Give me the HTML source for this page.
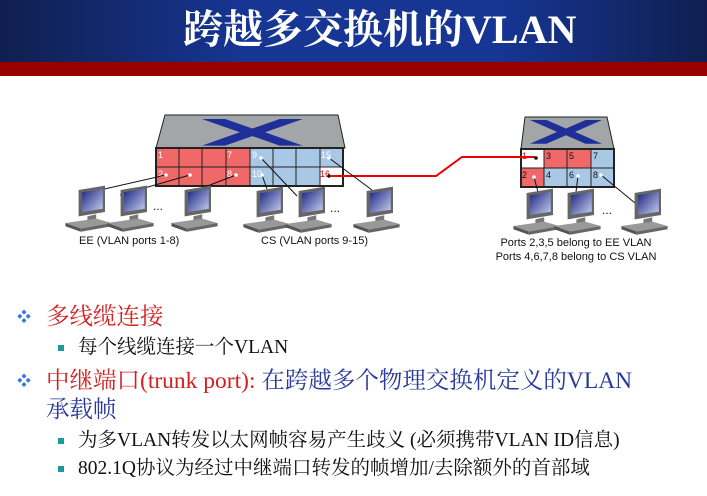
<!DOCTYPE html>
<html><head><meta charset="utf-8"><style>
body{margin:0;width:707px;height:496px;overflow:hidden;background:#fff;font-family:"Liberation Serif","Noto Serif CJK SC",serif;}
.hdr{position:absolute;left:0;top:0;width:707px;height:62px;background:linear-gradient(90deg,#0f1f4e 0%,#173694 35%,#173694 70%,#0f1f50 100%);}
.red{position:absolute;left:0;top:62px;width:707px;height:14px;background:#990000;}
.t{position:absolute;left:183px;top:8px;color:#fff;font-size:40px;font-weight:bold;line-height:44px;white-space:nowrap;}
.tx{position:absolute;white-space:nowrap;}
.l1{font-size:23.5px;line-height:26px;}
.l2{font-size:19.5px;line-height:22px;color:#111;}
.dia{position:absolute;color:#3a78d8;font-size:14px;}
.sq{position:absolute;width:6px;height:6px;background:#1a9a9a;}
</style></head><body>
<div class="hdr"></div><div class="red"></div>
<div class="t">跨越多交换机的VLAN</div>
<svg width="707" height="496" style="position:absolute;left:0;top:0" font-family="Liberation Sans, sans-serif">
<defs>
<linearGradient id="scr" x1="0" y1="0" x2="1" y2="1"><stop offset="0" stop-color="#1a237e"/><stop offset="1" stop-color="#c8d0f0"/></linearGradient>
<g id="pc0">
<polygon points="6,0 30,-4 30,20 6,24" fill="#666"/>
<polygon points="9,2 28,-1 28,17 9,20" fill="url(#scr)"/>
<polygon points="14,24 22,22 22,27 14,28" fill="#777"/>
<polygon points="-6,30 22,26 36,30 8,35" fill="#999"/>
<polygon points="-6,30 8,35 8,38 -6,33" fill="#555"/>
<polygon points="8,35 36,30 36,33 8,38" fill="#666"/>
</g>
<g id="pc"><g transform="scale(1.1)"><use href="#pc0"/></g></g>
<g id="xs"><polygon points="0,0 22,0 48,10 74,0 96,0 60,14 96,28 74,28 48,18 22,28 0,28 36,14" fill="#1f2f9a"/></g>
</defs>
<polygon points="165,115 338,115 345,148 156,148" fill="#a3a6a8" stroke="#222"/>
<g transform="translate(202,119) scale(1.05,0.95)"><use href="#xs"/></g>
<rect x="156" y="148" width="94" height="38" fill="#f06868"/>
<rect x="250" y="148" width="93" height="38" fill="#a9c8e6"/>
<rect x="320" y="167" width="23" height="19" fill="#fff"/>
<g stroke="#222" stroke-width="1">
<rect x="156" y="148" width="187" height="38" fill="none" stroke-width="2"/>
<line x1="156" y1="167" x2="343" y2="167"/>
<line x1="179" y1="148" x2="179" y2="186"/><line x1="202" y1="148" x2="202" y2="186"/>
<line x1="226" y1="148" x2="226" y2="186"/><line x1="250" y1="148" x2="250" y2="186"/>
<line x1="273" y1="148" x2="273" y2="186"/><line x1="296" y1="148" x2="296" y2="186"/>
<line x1="320" y1="148" x2="320" y2="186"/>
</g>
<g font-size="9" fill="#fff"><text x="158" y="158">1</text><text x="227" y="158">7</text><text x="158" y="177">2</text><text x="227" y="177">8</text><text x="252" y="158">9</text><text x="252" y="177">10</text><text x="321" y="158">15</text></g>
<text x="320" y="177" font-size="9" fill="#e00">16</text>
<polygon points="525,117 607,117 614,149 521,149" fill="#a3a6a8" stroke="#222"/>
<g transform="translate(530,120) scale(0.75,0.85)"><use href="#xs"/></g>
<rect x="521" y="149" width="93" height="38" fill="#a9c8e6"/>
<rect x="544" y="149" width="47" height="19" fill="#f06868"/>
<rect x="521" y="168" width="23" height="19" fill="#f06868"/>
<rect x="521" y="149" width="23" height="19" fill="#fff"/>
<g stroke="#222"><rect x="521" y="149" width="93" height="38" fill="none" stroke-width="2"/>
<line x1="521" y1="168" x2="614" y2="168"/><line x1="544" y1="149" x2="544" y2="187"/><line x1="567" y1="149" x2="567" y2="187"/><line x1="591" y1="149" x2="591" y2="187"/></g>
<g font-size="9" fill="#111"><text x="546" y="159">3</text><text x="569" y="159">5</text><text x="593" y="159">7</text><text x="522" y="178">2</text><text x="546" y="178">4</text><text x="569" y="178">6</text><text x="593" y="178">8</text></g>
<text x="522" y="159" font-size="9" fill="#e00">1</text>
<polyline points="331,176 436,176 462,157 535,157" fill="none" stroke="#e00" stroke-width="2"/>
<g stroke="#111" stroke-width="1" fill="none">
<line x1="166" y1="175" x2="100" y2="190"/><line x1="190" y1="175" x2="120" y2="195"/>
<line x1="236" y1="175" x2="197" y2="190"/>
<line x1="261" y1="158" x2="297" y2="196"/><line x1="262" y1="175" x2="267" y2="189"/>
<line x1="329" y1="158" x2="372" y2="190"/>
<line x1="534" y1="177" x2="538" y2="192"/><line x1="578" y1="176" x2="576" y2="192"/><line x1="601" y1="175" x2="635" y2="203"/>
</g>
<g fill="#fff"><circle cx="166" cy="175" r="1.8"/><circle cx="190" cy="175" r="1.8"/><circle cx="236" cy="175" r="1.8"/><circle cx="261" cy="158" r="1.8"/><circle cx="262" cy="175" r="1.8"/><circle cx="329" cy="158" r="1.8"/><circle cx="534" cy="177" r="1.8"/><circle cx="578" cy="176" r="1.8"/><circle cx="601" cy="175" r="1.8"/></g>
<circle cx="329" cy="176" r="1.8" fill="#111"/><circle cx="536" cy="158" r="1.8" fill="#111"/>
<use href="#pc" x="72" y="190"/><use href="#pc" x="114" y="190"/><use href="#pc" x="178" y="190"/>
<use href="#pc" x="250" y="191"/><use href="#pc" x="292" y="191"/><use href="#pc" x="360" y="191"/>
<use href="#pc" x="520" y="193"/><use href="#pc" x="561" y="193"/><use href="#pc" x="628" y="193"/>
<g font-size="12" fill="#111"><text x="153" y="210">...</text><text x="330" y="212">...</text><text x="602" y="214">...</text></g>
<g font-size="11" fill="#111">
<text x="79" y="244">EE (VLAN ports 1-8)</text>
<text x="261" y="244">CS (VLAN ports 9-15)</text>
<text x="576" y="246" text-anchor="middle">Ports 2,3,5 belong to EE VLAN</text>
<text x="576" y="260" text-anchor="middle">Ports 4,6,7,8 belong to CS VLAN</text>
</g>
</svg>
<div class="dia" style="left:17px;top:307px">❖</div>
<div class="tx l1" style="left:46px;top:304px;color:#d42020">多线缆连接</div>
<div class="sq" style="left:58px;top:345px"></div>
<div class="tx l2" style="left:78px;top:337px">每个线缆连接一个VLAN</div>
<div class="dia" style="left:17px;top:371px">❖</div>
<div class="tx l1" style="left:46px;top:368px;color:#d42020">中继端口(trunk port): <span style="color:#2a3a9a">在跨越多个物理交换机定义的VLAN</span></div>
<div class="tx l1" style="left:46px;top:397px;color:#2a3a9a">承载帧</div>
<div class="sq" style="left:58px;top:438px"></div>
<div class="tx l2" style="left:78px;top:430px">为多VLAN转发以太网帧容易产生歧义 (必须携带VLAN ID信息)</div>
<div class="sq" style="left:58px;top:466px"></div>
<div class="tx l2" style="left:78px;top:458px">802.1Q协议为经过中继端口转发的帧增加/去除额外的首部域</div>
</body></html>
